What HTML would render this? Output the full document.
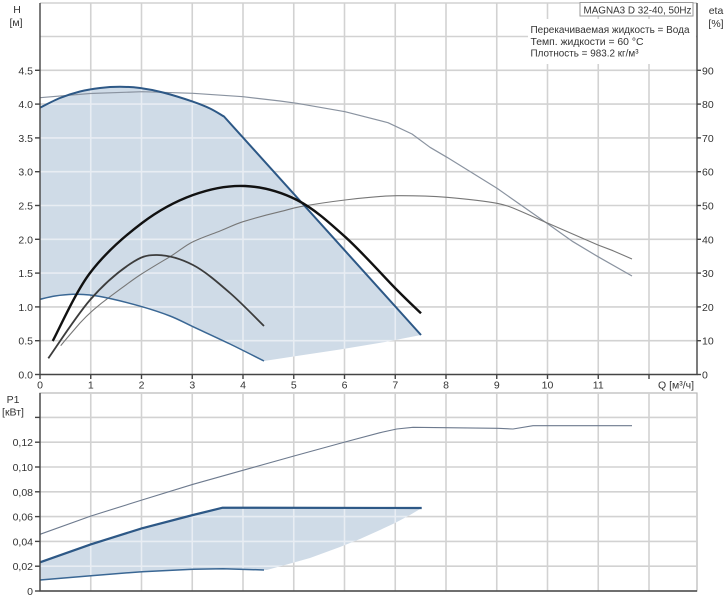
<!DOCTYPE html>
<html><head><meta charset="utf-8"><style>
html,body{margin:0;padding:0;background:#fff;}
svg{display:block;font-family:"Liberation Sans","DejaVu Sans",sans-serif;}
</style></head><body>
<svg width="728" height="600" viewBox="0 0 728 600" xmlns="http://www.w3.org/2000/svg">
<defs>
<g id="ug">
<line x1="90.75" y1="3" x2="90.75" y2="374.5"/><line x1="141.5" y1="3" x2="141.5" y2="374.5"/>
<line x1="192.25" y1="3" x2="192.25" y2="374.5"/><line x1="243" y1="3" x2="243" y2="374.5"/>
<line x1="293.75" y1="3" x2="293.75" y2="374.5"/><line x1="344.5" y1="3" x2="344.5" y2="374.5"/>
<line x1="395.25" y1="3" x2="395.25" y2="374.5"/><line x1="446" y1="3" x2="446" y2="374.5"/>
<line x1="496.75" y1="3" x2="496.75" y2="374.5"/><line x1="547.5" y1="3" x2="547.5" y2="374.5"/>
<line x1="598.25" y1="3" x2="598.25" y2="374.5"/><line x1="649" y1="3" x2="649" y2="374.5"/>
<line x1="40" y1="340.7" x2="697" y2="340.7"/><line x1="40" y1="306.9" x2="697" y2="306.9"/>
<line x1="40" y1="273.1" x2="697" y2="273.1"/><line x1="40" y1="239.3" x2="697" y2="239.3"/>
<line x1="40" y1="205.5" x2="697" y2="205.5"/><line x1="40" y1="171.7" x2="697" y2="171.7"/>
<line x1="40" y1="137.9" x2="697" y2="137.9"/><line x1="40" y1="104.1" x2="697" y2="104.1"/>
<line x1="40" y1="70.3" x2="697" y2="70.3"/><line x1="40" y1="36.5" x2="697" y2="36.5"/>
<line x1="40" y1="3" x2="697" y2="3"/>
</g>
<g id="lg">
<line x1="90.75" y1="393" x2="90.75" y2="591"/><line x1="141.5" y1="393" x2="141.5" y2="591"/>
<line x1="192.25" y1="393" x2="192.25" y2="591"/><line x1="243" y1="393" x2="243" y2="591"/>
<line x1="293.75" y1="393" x2="293.75" y2="591"/><line x1="344.5" y1="393" x2="344.5" y2="591"/>
<line x1="395.25" y1="393" x2="395.25" y2="591"/><line x1="446" y1="393" x2="446" y2="591"/>
<line x1="496.75" y1="393" x2="496.75" y2="591"/><line x1="547.5" y1="393" x2="547.5" y2="591"/>
<line x1="598.25" y1="393" x2="598.25" y2="591"/><line x1="649" y1="393" x2="649" y2="591"/>
<line x1="40" y1="566.2" x2="697" y2="566.2"/><line x1="40" y1="541.4" x2="697" y2="541.4"/>
<line x1="40" y1="516.6" x2="697" y2="516.6"/><line x1="40" y1="491.8" x2="697" y2="491.8"/>
<line x1="40" y1="467" x2="697" y2="467"/><line x1="40" y1="442.2" x2="697" y2="442.2"/>
<line x1="40" y1="417.4" x2="697" y2="417.4"/>
</g>
<path id="ufill" d="M40,107.7 C43.3,106.1 53.3,100.7 60,98 C66.7,95.3 73.3,93.2 80,91.5 C86.7,89.8 93.3,88.8 100,88 C106.7,87.2 113.3,86.8 120,86.8 C126.7,86.8 132.8,87.05 140,88 C147.2,88.95 154.2,90.2 163,92.5 C171.8,94.8 185.2,99 193,101.7 C200.8,104.4 204.8,106 210,108.5 C215.2,111 221.7,115.2 224,116.5 L421,335 L385,342 L340,349.5 L300,355.5 L264,361 L230,344 L193,326.7 L170,316 L142,306.7 L110,298.5 L90,295 L73,294.3 L55,296 L40,299.3 Z"/>
<path id="lfill" d="M40,562.3 L91,544.3 L142,528.3 L193,515 L222.7,507.7 L421.7,508 L410,515 L395,523 L380,530 L360,539 L340,547 L310,558 L285,565 L266.7,570 L264,570 L223,568.7 L193,569.3 L142,571.7 L91,575.7 L40,580 Z"/>
<clipPath id="cu"><use href="#ufill"/></clipPath>
<clipPath id="cl"><use href="#lfill"/></clipPath>
</defs>

<!-- upper grid -->
<use href="#ug" stroke="#d2d2d2" stroke-width="1.6"/>
<use href="#ufill" fill="#cfdbe7"/>
<use href="#ug" stroke="#e8edf3" stroke-width="1.6" clip-path="url(#cu)"/>

<!-- legend boxes -->
<rect x="528" y="19" width="168" height="45" fill="#fff"/>
<rect x="580" y="2.5" width="113" height="13.5" fill="#fff" stroke="#9a9a9a" stroke-width="1"/>
<text x="583.5" y="13.5" font-size="10" fill="#333" textLength="108" lengthAdjust="spacingAndGlyphs">MAGNA3 D 32-40, 50Hz</text>
<text x="530.5" y="33" font-size="10" fill="#333" textLength="159" lengthAdjust="spacingAndGlyphs">Перекачиваемая жидкость = Вода</text>
<text x="530.5" y="45" font-size="10" fill="#333" textLength="113" lengthAdjust="spacingAndGlyphs">Темп. жидкости = 60 °C</text>
<text x="530.5" y="56.5" font-size="10" fill="#333" textLength="108" lengthAdjust="spacingAndGlyphs">Плотность = 983.2 кг/м³</text>

<!-- upper curves -->
<polyline fill="none" stroke="#8a93a0" stroke-width="1.2" stroke-linejoin="round" points="40,97.7 90,93.5 142,91.7 193,93.3 243,96.7 280,101 297,103.3 345,111.7 388,122.7 412,134 430,147.3 447,157.3 497,188.3 548,224 573,241.7 598,256.7 632,276"/>
<path fill="none" stroke="#777" stroke-width="1.1" stroke-linejoin="round" d="M60.7,345.7 C66,339 74,330 80,323 C90,312 100,304 110,296.7 C120,289.5 130,281.5 140,275 C150,268.5 162,261.5 170,256.7 C180,250.5 185,245.5 193,241.7 C202,237.5 211,234.5 220,231 C228,228 234,224.5 243,221.7 C256,217.7 268,214.5 280,211.7 C287,210 292,208.3 300,206.7 C315,204 330,201.8 345,200 C362,198 380,195.8 397,195.7 C414,195.6 430,196 447,197.3 C464,198.8 482,200.5 497,203.3 C504,204.8 508,205.8 513,208 C525,213 536,218 548,223.3 L598,245 L613,250.7 L632,259"/>
<path fill="none" stroke="#2d5886" stroke-width="2" stroke-linejoin="round" d="M40,107.7 C43.3,106.1 53.3,100.7 60,98 C66.7,95.3 73.3,93.2 80,91.5 C86.7,89.8 93.3,88.8 100,88 C106.7,87.2 113.3,86.8 120,86.8 C126.7,86.8 132.8,87.05 140,88 C147.2,88.95 154.2,90.2 163,92.5 C171.8,94.8 185.2,99 193,101.7 C200.8,104.4 204.8,106 210,108.5 C215.2,111 221.7,115.2 224,116.5 L421,335"/>
<path fill="none" stroke="#3a6794" stroke-width="1.5" d="M40,299.3 C42.5,298.75 49.5,296.8 55,296 C60.5,295.2 67.2,294.5 73,294.3 C78.8,294.1 83.8,294.3 90,295 C96.2,295.7 101.3,296.55 110,298.5 C118.7,300.45 132,303.8 142,306.7 C152,309.6 161.5,312.7 170,316 C178.5,319.3 183,322 193,326.7 C203,331.4 218.2,338.3 230,344 C241.8,349.7 258.3,358.2 264,361"/>
<path fill="none" stroke="#3c3c3c" stroke-width="1.8" d="M48.3,358.3 C55.25,348.6 76.4,315.7 90,300 C103.6,284.3 118.8,271.5 130,264 C141.2,256.5 146.5,254.8 157,255 C167.5,255.2 180.8,258.7 193,265 C205.2,271.3 218.2,282.8 230,293 C241.8,303.2 258.3,320.5 264,326"/>
<path fill="none" stroke="#111" stroke-width="2.4" d="M52.7,341 C58.9,329.7 75.1,292.7 90,273 C104.9,253.3 124.8,236 142,223 C159.2,210 175.8,201.2 193,195 C210.2,188.8 227.7,185.2 245,186 C262.3,186.8 280.3,191.6 297,200 C313.7,208.5 328.3,221.7 345,236.7 C361.7,251.7 384.3,277.2 397,290 C409.7,302.8 417,309.4 421,313.3"/>

<!-- upper axes -->
<g stroke="#444" stroke-width="1.4">
<line x1="40" y1="3" x2="40" y2="375"/>
<line x1="39.5" y1="374.5" x2="697.5" y2="374.5"/>
<line x1="697" y1="3" x2="697" y2="375"/>
<line x1="35" y1="374.5" x2="40" y2="374.5"/><line x1="35" y1="340.7" x2="40" y2="340.7"/>
<line x1="35" y1="306.9" x2="40" y2="306.9"/><line x1="35" y1="273.1" x2="40" y2="273.1"/>
<line x1="35" y1="239.3" x2="40" y2="239.3"/><line x1="35" y1="205.5" x2="40" y2="205.5"/>
<line x1="35" y1="171.7" x2="40" y2="171.7"/><line x1="35" y1="137.9" x2="40" y2="137.9"/>
<line x1="35" y1="104.1" x2="40" y2="104.1"/><line x1="35" y1="70.3" x2="40" y2="70.3"/>
<line x1="697" y1="374.5" x2="701" y2="374.5"/><line x1="697" y1="340.7" x2="701" y2="340.7"/>
<line x1="697" y1="306.9" x2="701" y2="306.9"/><line x1="697" y1="273.1" x2="701" y2="273.1"/>
<line x1="697" y1="239.3" x2="701" y2="239.3"/><line x1="697" y1="205.5" x2="701" y2="205.5"/>
<line x1="697" y1="171.7" x2="701" y2="171.7"/><line x1="697" y1="137.9" x2="701" y2="137.9"/>
<line x1="697" y1="104.1" x2="701" y2="104.1"/><line x1="697" y1="70.3" x2="701" y2="70.3"/>
<line x1="40" y1="374.5" x2="40" y2="379"/><line x1="90.75" y1="374.5" x2="90.75" y2="379"/>
<line x1="141.5" y1="374.5" x2="141.5" y2="379"/><line x1="192.25" y1="374.5" x2="192.25" y2="379"/>
<line x1="243" y1="374.5" x2="243" y2="379"/><line x1="293.75" y1="374.5" x2="293.75" y2="379"/>
<line x1="344.5" y1="374.5" x2="344.5" y2="379"/><line x1="395.25" y1="374.5" x2="395.25" y2="379"/>
<line x1="446" y1="374.5" x2="446" y2="379"/><line x1="496.75" y1="374.5" x2="496.75" y2="379"/>
<line x1="547.5" y1="374.5" x2="547.5" y2="379"/><line x1="598.25" y1="374.5" x2="598.25" y2="379"/>
<line x1="649" y1="374.5" x2="649" y2="379"/>
</g>

<!-- upper labels -->
<g font-size="10.5" fill="#333">
<text x="17" y="13" text-anchor="middle">H</text>
<text x="16" y="26" text-anchor="middle">[м]</text>
<text x="716" y="14" text-anchor="middle">eta</text>
<text x="716" y="27" text-anchor="middle">[%]</text>
<g text-anchor="end">
<text x="33" y="378.5">0.0</text><text x="33" y="344.7">0.5</text><text x="33" y="310.9">1.0</text>
<text x="33" y="277.1">1.5</text><text x="33" y="243.3">2.0</text><text x="33" y="209.5">2.5</text>
<text x="33" y="175.7">3.0</text><text x="33" y="141.9">3.5</text><text x="33" y="108.1">4.0</text>
<text x="33" y="74.3">4.5</text>
</g>
<g>
<text x="702" y="378.5">0</text><text x="702" y="344.7">10</text><text x="702" y="310.9">20</text>
<text x="702" y="277.1">30</text><text x="702" y="243.3">40</text><text x="702" y="209.5">50</text>
<text x="702" y="175.7">60</text><text x="702" y="141.9">70</text><text x="702" y="108.1">80</text>
<text x="702" y="74.3">90</text>
</g>
<g text-anchor="middle">
<text x="40" y="388.5">0</text><text x="90.75" y="388.5">1</text><text x="141.5" y="388.5">2</text>
<text x="192.25" y="388.5">3</text><text x="243" y="388.5">4</text><text x="293.75" y="388.5">5</text>
<text x="344.5" y="388.5">6</text><text x="395.25" y="388.5">7</text><text x="446" y="388.5">8</text>
<text x="496.75" y="388.5">9</text><text x="547.5" y="388.5">10</text><text x="598.25" y="388.5">11</text>
</g>
<text x="658" y="388.5">Q [м³/ч]</text>
</g>

<!-- lower chart -->
<rect x="40" y="393" width="657" height="198" fill="#fff" stroke="#b8b8b8" stroke-width="1.2"/>
<use href="#lg" stroke="#d2d2d2" stroke-width="1.6"/>
<use href="#lfill" fill="#cfdbe7"/>
<use href="#lg" stroke="#e8edf3" stroke-width="1.6" clip-path="url(#cl)"/>

<polyline fill="none" stroke="#6d7a8e" stroke-width="1.1" stroke-linejoin="round" points="40,534.3 91,516 142,500 193,484.3 250,468.3 294,456 345,442 380,432.7 396.7,429 413,427.3 498,428.3 513,429 533,425.7 632,425.7"/>
<polyline fill="none" stroke="#2d5886" stroke-width="2.2" stroke-linejoin="round" points="40,562.3 91,544.3 142,528.3 193,515 222.7,507.7 421.7,508"/>
<polyline fill="none" stroke="#3a6794" stroke-width="1.5" stroke-linejoin="round" points="40,580 91,575.7 142,571.7 193,569.3 223,568.7 264,570"/>

<g stroke="#444" stroke-width="1.4">
<line x1="40" y1="393" x2="40" y2="591.5"/>
<line x1="39.5" y1="591" x2="697" y2="591"/>
<line x1="35" y1="591" x2="40" y2="591"/><line x1="35" y1="566.2" x2="40" y2="566.2"/>
<line x1="35" y1="541.4" x2="40" y2="541.4"/><line x1="35" y1="516.6" x2="40" y2="516.6"/>
<line x1="35" y1="491.8" x2="40" y2="491.8"/><line x1="35" y1="467" x2="40" y2="467"/>
<line x1="35" y1="442.2" x2="40" y2="442.2"/><line x1="35" y1="417.4" x2="40" y2="417.4"/>
</g>
<g font-size="10.5" fill="#333">
<text x="13" y="403" text-anchor="middle">P1</text>
<text x="13" y="415.5" text-anchor="middle">[кВт]</text>
<g text-anchor="end">
<text x="33" y="595">0</text><text x="33" y="570.2">0,02</text><text x="33" y="545.4">0,04</text>
<text x="33" y="520.6">0,06</text><text x="33" y="495.8">0,08</text><text x="33" y="471">0,10</text>
<text x="33" y="446.2">0,12</text>
</g>
</g>
</svg>
</body></html>
